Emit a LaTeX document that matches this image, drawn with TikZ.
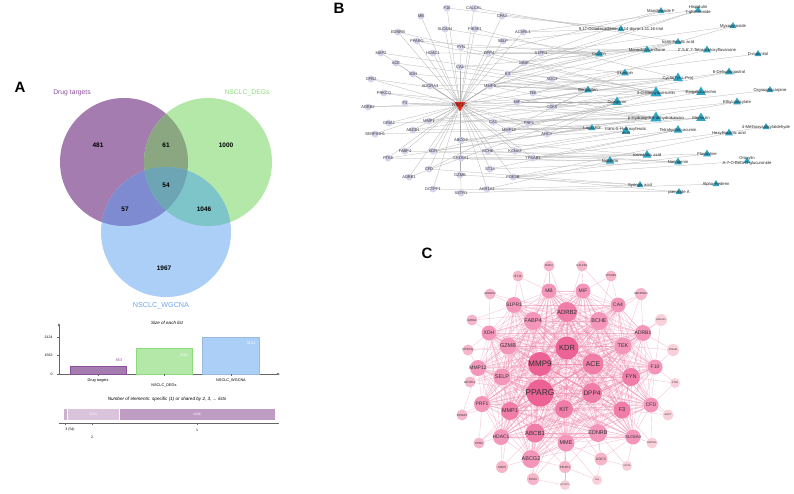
\documentclass[tikz,border=0pt]{standalone}
\usepackage{fontspec}
\setmainfont{Liberation Sans}
\usetikzlibrary{shapes.geometric,backgrounds,arrows.meta}
\definecolor{vpur}{RGB}{164,124,176}
\definecolor{vgrn}{RGB}{179,232,169}
\definecolor{vblu}{RGB}{171,207,246}
\definecolor{vpg}{RGB}{139,167,130}
\definecolor{vpb}{RGB}{126,139,208}
\definecolor{vgb}{RGB}{125,197,200}
\definecolor{vpgb}{RGB}{110,165,181}
\definecolor{tpur}{RGB}{140,80,155}
\definecolor{tgrn}{RGB}{140,220,125}
\definecolor{tblu}{RGB}{110,165,235}
\definecolor{bnode}{RGB}{212,212,236}
\definecolor{btri}{RGB}{45,165,196}
\definecolor{bred}{RGB}{225,45,30}
\definecolor{pk1}{RGB}{236,98,148}
\definecolor{pk2}{RGB}{240,125,168}
\definecolor{pk3}{RGB}{243,150,185}
\definecolor{pk4}{RGB}{246,182,202}
\definecolor{pk5}{RGB}{249,208,218}
\definecolor{cedge}{RGB}{240,130,168}
\definecolor{seg1}{RGB}{200,180,205}
\definecolor{seg2}{RGB}{217,196,220}
\definecolor{seg3}{RGB}{190,156,195}
\newcommand{\fs}[1]{\fontsize{#1}{#1}\selectfont}
\newcommand{\btg}[3]{\node[btnode, label={[blab]center:#1}] (b#1) at (#2,#3) {};}
\newcommand{\bcp}[5]{\node[bcnode, minimum size=#4pt, label={[clab]center:{#5}}] (#1) at (#2,#3) {};}
\newcommand{\cnd}[6]{\node[cnd, minimum size=#4pt, fill=#5, label={[font=\fs{#6}, text=black!80]center:#1}] (C#1) at (#2,#3) {};}
\tikzset{
  plabel/.style={font=\bfseries\fs{15}},
  vnum/.style={font=\bfseries\fs{6.5}},
  btnode/.style={circle, fill=bnode, inner sep=0pt, minimum size=7pt},
  blab/.style={font=\fs{4}, text=black!80},
  bcnode/.style={regular polygon, regular polygon sides=3, fill=btri, inner sep=0pt},
  clab/.style={font=\fs{4.2}, text=black!85, align=center},
  bedge/.style={draw=black!32, line width=0.25pt},
  cnd/.style={circle, inner sep=0pt},
  cedgesty/.style={draw=cedge, line width=0.35pt, opacity=0.5},
  axis/.style={draw=black!60, line width=0.4pt},
}
\begin{document}
\begin{tikzpicture}[x=1pt,y=-1pt]
\begin{pgfonlayer}{background}
\fill[white] (0,0) rectangle (794,493);
\end{pgfonlayer}
\useasboundingbox (0,0) rectangle (794,493);

% ================= Panel A =================
\node[plabel] (lA) at (20,87) {A};
\fill[vpur] (124,162) circle (64pt);
\fill[vgrn] (208,162) circle (64pt);
\fill[vblu] (166,232) circle (65pt);
\begin{scope}
  \clip (124,162) circle (64pt);
  \fill[vpg] (208,162) circle (64pt);
  \fill[vpb] (166,232) circle (65pt);
\end{scope}
\begin{scope}
  \clip (208,162) circle (64pt);
  \fill[vgb] (166,232) circle (65pt);
\end{scope}
\begin{scope}
  \clip (124,162) circle (64pt);
  \clip (208,162) circle (64pt);
  \fill[vpgb] (166,232) circle (65pt);
\end{scope}
\node[font=\fs{6.8}, text=tpur] (tDrug) at (72,93) {Drug targets};
\node[font=\fs{6.8}, text=tgrn] (tDEG) at (247,93) {NSCLC\_DEGs};
\node[font=\fs{7.2}, text=tblu] (tWG) at (161,306) {NSCLC\_WGCNA};
\node[vnum] (n481) at (98,145) {481};
\node[vnum] (n61) at (166,145) {61};
\node[vnum] (n1000) at (226,145) {1000};
\node[vnum] (n54) at (166,185) {54};
\node[vnum] (n57) at (125,209) {57};
\node[vnum] (n1046) at (204,209) {1046};
\node[vnum] (n1967) at (164,268) {1967};

% bar chart
\node[font=\itshape\fs{4.5}] (tSize) at (167,323) {Size of each list};
\draw[axis, -{Latex[length=3pt,width=2.4pt]}] (59,375) -- (59,323);
\draw[axis, -{Latex[length=3pt,width=2.4pt]}] (59,374) -- (280,374);
\draw[axis] (57,337) -- (59,337) (57,355) -- (59,355) (57,374) -- (59,374);
\node[font=\fs{3.5}, anchor=east] (y3124) at (56,337) {3124};
\node[font=\fs{3.5}, anchor=east] (y1562) at (56,355) {1562};
\node[font=\fs{3.5}, anchor=east] (y0) at (56,374) {0};
\draw[fill=vpur, draw=tpur, line width=0.4pt] (70,374) rectangle (126,366);
\draw[fill=vgrn, draw=tgrn, line width=0.4pt] (136,374) rectangle (192,348);
\draw[fill=vblu, draw=vblu!90!black, line width=0.4pt] (202,374) rectangle (259,337);
\node[font=\fs{3.8}, text=tpur] (v653) at (119,360) {653};
\node[font=\fs{3.8}, text=white] (v2161) at (184,355) {2161};
\node[font=\fs{3.8}, text=white] (v3124) at (251,343) {3124};
\draw[axis] (98,374) -- (98,376) (164,374) -- (164,376) (231,374) -- (231,376);
\node[font=\fs{3.8}] (xDrug) at (98,381) {Drug targets};
\node[font=\fs{3.8}] (xDEG) at (164,386) {NSCLC\_DEGs};
\node[font=\fs{3.8}] (xWG) at (231,381) {NSCLC\_WGCNA};

\node[font=\itshape\fs{4.6}] (tNum) at (167,399) {Number of elements: specific (1) or shared by 2, 3, ... lists};
\fill[seg1] (64,409) rectangle (67,420);
\fill[seg2] (67,409) rectangle (119,420);
\fill[seg3] (119,409) rectangle (275,420);
\draw[white, line width=0.3pt] (67,409) -- (67,420) (119,409) -- (119,420);
\node[font=\fs{3.5}, text=white] (s1164) at (93,414.5) {1164};
\node[font=\fs{3.5}, text=white] (s3446) at (197,414.5) {3446};
\draw[axis] (59,423) -- (279,423);
\draw[axis] (65,423) -- (65,425) (92,423) -- (92,425) (197,423) -- (197,425);
\node[font=\fs{3.5}] (k3) at (70,430) {3 (54)};
\node[font=\fs{3.5}] (k2) at (92,437) {2};
\node[font=\fs{3.5}] (k1) at (197,430) {1};

% ================= Panel B =================
\node[plabel] (lB) at (339,8) {B};
\btg{F10}{447}{8}
\btg{CALCRL}{474}{8}
\btg{MB}{421}{16}
\btg{SLC6A4}{445}{29}
\btg{PIK3R1}{475}{29}
\btg{EDNRB}{398}{32}
\btg{PPARG}{417}{41}
\btg{FYN}{461}{47}
\btg{HDAC1}{433}{53}
\btg{DPP4}{489}{53}
\btg{MAP2}{381}{53}
\btg{ACE}{396}{63}
\btg{CA4}{460}{67}
\btg{XDH}{413}{74}
\btg{CPB2}{371}{79}
\btg{ADORA3}{430}{86}
\btg{PRKCQ}{384}{93}
\btg{ADRB2}{368}{107}
\btg{F3}{405}{103}
\btg{GRIA1}{389}{123}
\btg{MMP1}{429}{121}
\btg{ABCB1}{413}{130}
\btg{SERPINH1}{375}{134}
\btg{ABCG2}{461}{140}
\btg{FABP4}{405}{151}
\btg{KDR}{433}{151}
\btg{PTK6}{388}{158}
\btg{SRD5A1}{461}{158}
\btg{CFD}{429}{169}
\btg{ADRB1}{409}{177}
\btg{GZMB}{460}{175}
\btg{DCTPP1}{433}{189}
\btg{SSTR1}{461}{193}
\btg{AKR1A1}{487}{189}
\btg{CPA3}{502}{16}
\btg{ACVRL1}{523}{32}
\btg{SELP}{503}{41}
\btg{S1PR1}{541}{53}
\btg{MME}{524}{63}
\btg{KIT}{508}{74}
\btg{AOC3}{552}{79}
\btg{MMP9}{490}{86}
\btg{TEK}{533}{93}
\btg{MIF}{517}{102}
\btg{CDK5}{552}{107}
\btg{CA3}{493}{122}
\btg{PRF1}{529}{123}
\btg{MMP12}{509}{130}
\btg{AHCY}{547}{134}
\btg{BCHE}{488}{151}
\btg{KCNA3}{515}{151}
\btg{TPSAB1}{533}{158}
\btg{ST14}{490}{169}
\btg{PDE3B}{513}{177}
\node[regular polygon, regular polygon sides=3, shape border rotate=180, fill=bred, inner sep=0pt, minimum size=13pt, label={[font=\fs{4.5}, text=black!85]center:NSCLC}] (bNSCLC) at (460,105) {};

\bcp{c1}{621}{29}{8}{9,17-Octadecadiene-12,14-diyne-1,11,16-triol}
\bcp{c2}{661}{11}{8}{Mandeloside F}
\bcp{c3}{698}{10}{8}{Hispidulin\\7-glucuronide}
\bcp{c4}{733}{26}{8}{Myxopyroside}
\bcp{c5}{678}{42}{8}{trans-Ferulic acid}
\bcp{c6}{647}{50}{9}{Monodictyxanthone}
\bcp{c7}{707}{50}{9}{2',5,6',7-Tetraacetoxyflavanone}
\bcp{c8}{758}{54}{8}{D-mannitol}
\bcp{c9}{599}{54}{9}{Cnidilin}
\bcp{c10}{625}{73}{9}{Skimmin}
\bcp{c11}{729}{72}{9}{6-Dehydrogastrol}
\bcp{c12}{678}{78}{11}{Cyclo(Tyr-L-Pro)}
\bcp{c13}{588}{90}{9}{Bergapten}
\bcp{c14}{656}{93}{13}{3-O-Methylquercetin}
\bcp{c15}{701}{92}{11}{Epigallocatechin}
\bcp{c16}{770}{90}{8}{Oxysophocarpine}
\bcp{c17}{617}{102}{11}{Diosgenin}
\bcp{c18}{737}{102}{9}{Ethyl salicylate}
\bcp{c19}{656}{118}{13}{p-Hydroxy-5,6-dehydrokawain}
\bcp{c20}{701}{118}{11}{Meranzin}
\bcp{c21}{766}{127}{8}{4-Methoxysalicylaldehyde}
\bcp{c22}{592}{128}{8}{Lapachol}
\bcp{c23}{626}{131}{10}{trans-5-Hydroxyferulic\\acid}
\bcp{c24}{678}{130}{10}{Tetrahydrocurcumin}
\bcp{c25}{729}{133}{9}{Hexylitaconic acid}
\bcp{c26}{647}{155}{10}{rosmarinic acid}
\bcp{c27}{707}{154}{9}{Flavantine}
\bcp{c28}{678}{162}{9}{Naringenin}
\bcp{c29}{747}{161}{8}{Oroxylin\\A-7-O-Beta-D-glucuronide}
\bcp{c30}{610}{161}{10}{Nobiletin}
\bcp{c31}{640}{185}{8}{Syringic acid}
\bcp{c32}{716}{184}{8}{Alpha-Hederin}
\bcp{c33}{679}{192}{8}{pteroside A}

\begin{pgfonlayer}{background}
\foreach \t in {F10,CALCRL,MB,SLC6A4,PIK3R1,EDNRB,PPARG,FYN,HDAC1,DPP4,MAP2,ACE,CA4,XDH,CPB2,ADORA3,PRKCQ,ADRB2,F3,GRIA1,MMP1,ABCB1,SERPINH1,ABCG2,FABP4,KDR,PTK6,SRD5A1,CFD,ADRB1,GZMB,DCTPP1,SSTR1,AKR1A1,CPA3,ACVRL1,SELP,S1PR1,MME,KIT,AOC3,MMP9,TEK,MIF,CDK5,CA3,PRF1,MMP12,AHCY,BCHE,KCNA3,TPSAB1,ST14,PDE3B}
  \draw[bedge] (bNSCLC) -- (b\t);
\foreach \c/\t in {c1/CPA3,c1/ACVRL1,c1/SELP,c1/F10,c2/S1PR1,c2/DPP4,c3/MME,c3/KIT,c3/ACVRL1,c4/AOC3,c4/S1PR1,
  c5/MMP9,c5/MME,c5/KIT,c6/DPP4,c6/CA4,c6/FYN,c7/S1PR1,c7/TEK,c8/AOC3,c9/MMP9,c9/KIT,c9/DPP4,c9/PPARG,c9/HDAC1,
  c10/MME,c10/TEK,c10/CDK5,c11/CDK5,c11/MIF,c12/MMP9,c12/TEK,c12/MIF,c12/ADORA3,c13/MMP9,c13/MMP1,c13/CA4,c13/XDH,c13/ACE,
  c14/MMP9,c14/MMP1,c14/KDR,c14/ABCB1,c14/PPARG,c14/ADRB2,c14/MAP2,c15/MMP9,c15/KIT,c15/PRF1,c16/CA3,
  c17/CDK5,c17/MIF,c17/MMP12,c17/AHCY,c18/AHCY,c18/PRF1,c19/MMP9,c19/MMP1,c19/ABCG2,c19/KDR,c19/F3,c19/GRIA1,c19/CPB2,
  c20/AHCY,c20/MMP12,c20/CA3,c21/TPSAB1,c22/CA3,c22/MMP12,c22/ABCB1,c22/SERPINH1,c23/ABCG2,c23/KCNA3,c23/BCHE,
  c24/TPSAB1,c24/KCNA3,c24/ST14,c25/PDE3B,c26/ABCG2,c26/SRD5A1,c26/KDR,c27/TPSAB1,c27/PDE3B,c28/ST14,c28/BCHE,c28/FABP4,
  c29/PDE3B,c30/AKR1A1,c30/SRD5A1,c30/PTK6,c31/AKR1A1,c31/GZMB,c31/CFD,c32/SSTR1,c33/DCTPP1,c33/PDE3B,
  c14/EDNRB,c19/PRKCQ,c12/PIK3R1,c5/CALCRL,c9/SLC6A4,c13/CFD,c17/ADRB1,c22/PTK6}
  \draw[bedge] (\c) -- (b\t);
\end{pgfonlayer}

% ================= Panel C =================
\node[plabel] (lC) at (427,253) {C};
\cnd{PPARG}{540}{393}{27}{pk1}{8.5}
\cnd{MMP9}{540}{364}{24}{pk1}{8}
\cnd{KDR}{567}{348}{23}{pk1}{7.5}
\cnd{ACE}{593}{364}{21}{pk2}{7}
\cnd{DPP4}{592}{393}{20}{pk2}{6.5}
\cnd{ADRB2}{567}{312}{20}{pk2}{6}
\cnd{KIT}{564}{409}{18}{pk2}{6}
\cnd{MMP1}{510}{411}{18}{pk2}{5.5}
\cnd{ABCB1}{535}{433}{19}{pk2}{6}
\cnd{EDNRB}{598}{433}{18}{pk3}{5.5}
\cnd{FYN}{631}{377}{18}{pk2}{5.5}
\cnd{F3}{622}{410}{17}{pk2}{5.5}
\cnd{SELP}{502}{377}{17}{pk3}{5.5}
\cnd{GZMB}{508}{346}{17}{pk3}{5.5}
\cnd{FABP4}{533}{321}{18}{pk3}{5.5}
\cnd{BCHE}{599}{321}{18}{pk3}{5.5}
\cnd{TEK}{623}{346}{17}{pk3}{5.5}
\cnd{MME}{566}{443}{17}{pk3}{5.5}
\cnd{ABCG2}{531}{459}{18}{pk3}{5.5}
\cnd{HDAC1}{501}{437}{16}{pk3}{5}
\cnd{PRF1}{482}{404}{16}{pk3}{5}
\cnd{MMP12}{478}{368}{16}{pk3}{5}
\cnd{XDH}{489}{333}{15}{pk3}{5}
\cnd{S1PR1}{514}{305}{16}{pk3}{5}
\cnd{MB}{549}{291}{15}{pk3}{5}
\cnd{MIF}{583}{291}{15}{pk3}{5}
\cnd{CA4}{618}{305}{15}{pk3}{5}
\cnd{ADRB1}{643}{333}{16}{pk3}{5}
\cnd{F10}{655}{367}{15}{pk3}{5}
\cnd{CFD}{651}{405}{15}{pk3}{5}
\cnd{SLC6A4}{633}{437}{15}{pk3}{4.3}
\cnd{AOC3}{601}{459}{13}{pk4}{3.5}
\cnd{CDK5}{502}{467}{12}{pk4}{3}
\cnd{PIK3R1}{565}{467}{12}{pk4}{3}
\cnd{CPA3}{533}{479}{12}{pk4}{3}
\cnd{CPB2}{479}{443}{11}{pk4}{3}
\cnd{KCNA3}{462}{415}{11}{pk4}{3}
\cnd{PRKCQ}{468}{350}{11}{pk4}{3}
\cnd{ACVRL1}{470}{382}{11}{pk4}{3}
\cnd{GRIA1}{472}{320}{11}{pk4}{3}
\cnd{ADORA3}{490}{294}{11}{pk4}{2.8}
\cnd{ST14}{518}{276}{11}{pk4}{3}
\cnd{MAP2}{549}{266}{11}{pk4}{2.8}
\cnd{CALCRL}{582}{266}{11}{pk4}{2.8}
\cnd{TPSAB1}{611}{276}{11}{pk4}{2.8}
\cnd{SERPINH1}{641}{294}{12}{pk4}{2.8}
\cnd{AKR1A1}{661}{320}{12}{pk5}{2.5}
\cnd{PDE3B}{673}{350}{12}{pk5}{2.5}
\cnd{PTK6}{675}{383}{10}{pk5}{2.5}
\cnd{AHCY}{668}{415}{11}{pk5}{2.5}
\cnd{SRD5A1}{652}{443}{11}{pk5}{2.5}
\cnd{SSTR1}{627}{466}{10}{pk5}{2.3}
\cnd{CA3}{597}{480}{10}{pk5}{2.3}
\cnd{DCTPP1}{565}{485}{10}{pk5}{2.3}

\begin{pgfonlayer}{background}
\foreach \a [count=\i] in {PPARG,MMP9,KDR,ACE,DPP4,KIT,ADRB2,MMP1,ABCB1,EDNRB,FYN,F3,SELP,GZMB,FABP4,BCHE,TEK,MME,ABCG2,HDAC1,PRF1,MMP12,XDH,S1PR1,MB,MIF,CA4,ADRB1,F10,CFD,SLC6A4}{
  \foreach \b [count=\j] in {PPARG,MMP9,KDR,ACE,DPP4,KIT,ADRB2,MMP1,ABCB1,EDNRB,FYN,F3,SELP,GZMB,FABP4,BCHE,TEK,MME,ABCG2,HDAC1,PRF1,MMP12,XDH,S1PR1,MB,MIF,CA4,ADRB1,F10,CFD,SLC6A4}{
    \ifnum\j>\i \draw[cedgesty] (C\a) -- (C\b); \fi
  }
}
\foreach \a/\b in {AOC3/EDNRB,AOC3/MME,AOC3/KIT,AOC3/SLC6A4,AOC3/DPP4,CDK5/ABCG2,CDK5/HDAC1,CDK5/ABCB1,CDK5/MMP1,
  PIK3R1/MME,PIK3R1/KIT,PIK3R1/ABCB1,PIK3R1/ABCG2,PIK3R1/EDNRB,CPA3/ABCG2,CPA3/MME,CPA3/ABCB1,CPA3/KIT,
  CPB2/HDAC1,CPB2/PRF1,CPB2/MMP1,CPB2/PPARG,KCNA3/PRF1,KCNA3/MMP12,KCNA3/PPARG,PRKCQ/XDH,PRKCQ/MMP12,PRKCQ/GZMB,PRKCQ/KDR,
  ACVRL1/SELP,ACVRL1/MMP12,ACVRL1/KDR,ACVRL1/PPARG,GRIA1/XDH,GRIA1/S1PR1,GRIA1/ADRB2,ADORA3/S1PR1,ADORA3/ADRB2,ADORA3/XDH,
  ST14/MB,ST14/S1PR1,ST14/MMP9,MAP2/MB,MAP2/ADRB2,MAP2/FABP4,CALCRL/MIF,CALCRL/ADRB2,CALCRL/ADRB1,TPSAB1/MIF,TPSAB1/CA4,TPSAB1/BCHE,
  SERPINH1/CA4,SERPINH1/ADRB1,SERPINH1/TEK,SERPINH1/KDR,AKR1A1/ADRB1,AKR1A1/TEK,AKR1A1/F10,PDE3B/TEK,PDE3B/F10,PDE3B/ADRB1,
  PTK6/F10,PTK6/FYN,PTK6/CFD,AHCY/CFD,AHCY/F3,AHCY/FYN,SRD5A1/SLC6A4,SRD5A1/CFD,SRD5A1/F3,SSTR1/SLC6A4,SSTR1/AOC3,SSTR1/EDNRB,
  CA3/AOC3,CA3/PIK3R1,CA3/MME,DCTPP1/PIK3R1,DCTPP1/CPA3,DCTPP1/MME}
  \draw[cedgesty] (C\a) -- (C\b);
\end{pgfonlayer}
\end{tikzpicture}
\end{document}
